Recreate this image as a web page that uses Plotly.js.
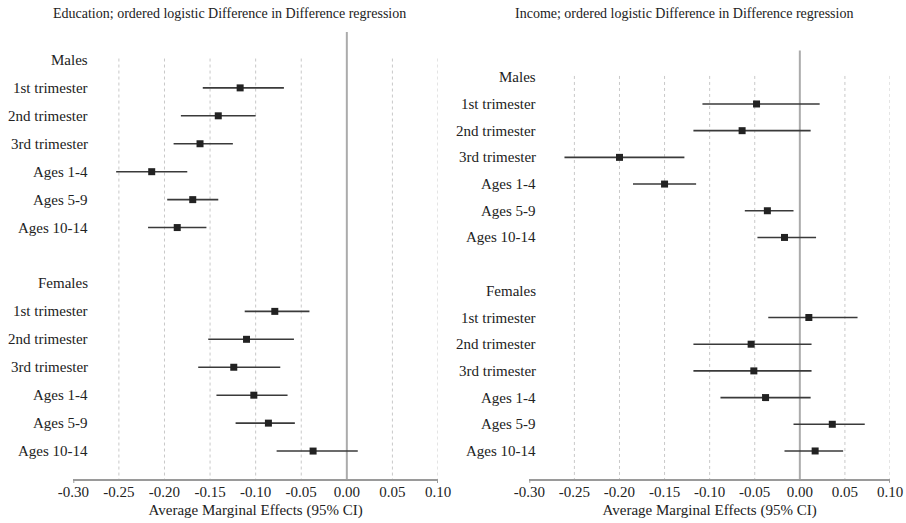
<!DOCTYPE html>
<html><head><meta charset="utf-8">
<script src="https://cdn.plot.ly/plotly-3.0.1.min.js"></script>
<style>html,body{margin:0;padding:0;background:#fff}</style>
</head><body><div id="chart" style="width:906px;height:523px"></div>
<script>
// ---- data ----
const groups = ['Males', 'Females'];
const periods = ['1st trimester', '2nd trimester', '3rd trimester', 'Ages 1-4', 'Ages 5-9', 'Ages 10-14'];
const xTickVals = [-0.30, -0.25, -0.20, -0.15, -0.10, -0.05, 0.00, 0.05, 0.10];
const xTickText = ['-0.30', '-0.25', '-0.20', '-0.15', '-0.10', '-0.05', '0.00', '0.05', '0.10'];
const leftTitle = 'Education; ordered logistic Difference in Difference regression';
const rightTitle = 'Income; ordered logistic Difference in Difference regression';
const axisTitle = 'Average Marginal Effects (95% CI)';

const eduMalesEst = [-0.117, -0.141, -0.161, -0.214, -0.169, -0.186];
const eduMalesLo  = [-0.158, -0.182, -0.190, -0.253, -0.197, -0.218];
const eduMalesHi  = [-0.069, -0.100, -0.125, -0.175, -0.141, -0.154];
const eduFemalesEst = [-0.079, -0.110, -0.124, -0.102, -0.086, -0.037];
const eduFemalesLo  = [-0.112, -0.152, -0.163, -0.143, -0.122, -0.077];
const eduFemalesHi  = [-0.041, -0.058, -0.073, -0.065, -0.057, 0.012];

const incMalesEst = [-0.048, -0.064, -0.200, -0.150, -0.036, -0.017];
const incMalesLo  = [-0.108, -0.118, -0.261, -0.185, -0.061, -0.047];
const incMalesHi  = [0.022, 0.012, -0.128, -0.115, -0.007, 0.018];
const incFemalesEst = [0.010, -0.054, -0.051, -0.038, 0.036, 0.017];
const incFemalesLo  = [-0.035, -0.118, -0.118, -0.088, -0.007, -0.017];
const incFemalesHi  = [0.064, 0.013, 0.013, 0.012, 0.072, 0.048];

// ---- build ----
const FONT = 'Liberation Serif, Times New Roman, serif';
const TXT = '#222';
const maleRows = periods.map((p, i) => i + 2);
const femaleRows = periods.map((p, i) => i + 10);
const groupRows = [1, 9];

function panelTrace(mEst, mLo, mHi, fEst, fLo, fHi, xa, ya) {
  const est = mEst.concat(fEst), lo = mLo.concat(fLo), hi = mHi.concat(fHi);
  return {
    type: 'scatter', mode: 'markers', xaxis: xa, yaxis: ya,
    x: est, y: maleRows.concat(femaleRows),
    marker: {symbol: 'square', size: 7, color: '#222'},
    error_x: {type: 'data', symmetric: false,
      array: hi.map((h, i) => h - est[i]), arrayminus: lo.map((l, i) => est[i] - l),
      width: 0, thickness: 1.6, color: '#3a3a3a'},
    hoverinfo: 'x', showlegend: false, cliponaxis: false
  };
}

const traces = [
  panelTrace(eduMalesEst, eduMalesLo, eduMalesHi, eduFemalesEst, eduFemalesLo, eduFemalesHi, 'x', 'y'),
  panelTrace(incMalesEst, incMalesLo, incMalesHi, incFemalesEst, incFemalesLo, incFemalesHi, 'x2', 'y2')
];

const W = 906, H = 523, MB = 44;
const PH = H - MB;
const yRangeL = [16, 0], yRangeR = [16.05, 0];

function xaxisDef(domain, anchor) {
  return {
    domain: domain, anchor: anchor, range: [-0.30, 0.10],
    tickvals: xTickVals, ticktext: xTickText, ticks: '', showgrid: false, zeroline: false,
    showline: true, linecolor: '#9a9a9a', linewidth: 2, ticklabelstandoff: -2,
    tickfont: {family: FONT, size: 15, color: TXT},
    title: {text: axisTitle, font: {family: FONT, size: 15, color: TXT}, standoff: 5}
  };
}
function yaxisDef(domain, anchor, range) {
  return {domain: domain, anchor: anchor, range: range, showticklabels: false, ticks: '',
    showgrid: false, zeroline: false, showline: false};
}

const shapes = [];
const annotations = [];
function panelDecor(xr, yr, yRange, labelX) {
  xTickVals.forEach(v => {
    if (v === 0 || v === xTickVals[0]) return;
    shapes.push({type: 'line', xref: xr, yref: yr, x0: v, x1: v, y0: 0.95, y1: yRange[0],
      line: {color: '#c8c8c8', width: 1, dash: '3px,3px'}, layer: 'below'});
  });
  shapes.push({type: 'line', xref: xr, yref: yr + ' domain', x0: 0, x1: 0, y0: 0, y1: 1,
    line: {color: '#ababab', width: 2}, layer: 'below'});
  // small end ticks of the axis line
  [xTickVals[0], xTickVals[xTickVals.length - 1]].forEach(v => {
    shapes.push({type: 'line', xref: xr, yref: yr + ' domain', x0: v, x1: v, y0: 0, y1: -0.009,
      line: {color: '#9a9a9a', width: 2}});
  });
  const rows = groupRows.concat(maleRows, femaleRows);
  const texts = groups.concat(periods, periods);
  rows.forEach((r, i) => annotations.push({xref: 'paper', yref: yr, x: labelX, y: r,
    xanchor: 'right', yanchor: 'middle', text: texts[i], showarrow: false,
    font: {family: FONT, size: 15, color: TXT}}));
}
panelDecor('x', 'y', yRangeL, 90 / W);
panelDecor('x2', 'y2', yRangeR, 538 / W);

const titleY = (PH - 13.5) / PH;
annotations.push({xref: 'paper', yref: 'paper', x: 229 / W, y: titleY, xanchor: 'center', yanchor: 'middle',
  text: leftTitle, showarrow: false, font: {family: FONT, size: 14, color: TXT}});
annotations.push({xref: 'paper', yref: 'paper', x: 684 / W, y: titleY, xanchor: 'center', yanchor: 'middle',
  text: rightTitle, showarrow: false, font: {family: FONT, size: 14, color: TXT}});

const layout = {
  width: W, height: H, margin: {l: 0, r: 0, t: 0, b: MB},
  paper_bgcolor: '#fff', plot_bgcolor: '#fff',
  xaxis: xaxisDef([73.3 / W, 438 / W], 'y'),
  yaxis: yaxisDef([0, (PH - 32) / PH], 'x', yRangeL),
  xaxis2: xaxisDef([529.3 / W, 890 / W], 'y2'),
  yaxis2: yaxisDef([0, (PH - 50.6) / PH], 'x2', yRangeR),
  shapes: shapes, annotations: annotations, showlegend: false
};

Plotly.newPlot('chart', traces, layout, {displayModeBar: false, staticPlot: true});
</script>
</body></html>
